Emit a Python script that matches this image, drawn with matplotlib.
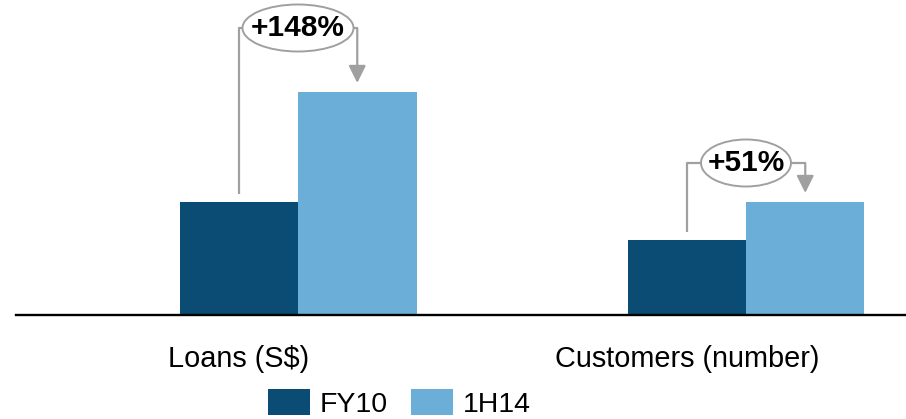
import matplotlib
matplotlib.use("Agg")
import matplotlib.pyplot as plt
from matplotlib.patches import Ellipse, Patch

plt.rcParams['font.family'] = ['Liberation Sans', 'DejaVu Sans']

categories = ["Loans (S$)", "Customers (number)"]
series_names = ["FY10", "1H14"]
fy10 = [113, 75]
h14 = [223, 113]
growth_labels = ["+148%", "+51%"]

dark = "#0B4C74"
light = "#6BAFD8"
grey = "#A0A0A0"

W, H = 906, 419
fig = plt.figure(figsize=(W / 100, H / 100), dpi=100)
ax = fig.add_axes([16 / W, 104 / H, 890 / W, 315 / H])

px = 448.0  # pixels per x data unit
w = 118.5 / px
xs = list(range(len(categories)))

ax.bar([x - w / 2 for x in xs], fy10, w, color=dark, zorder=2)
ax.bar([x + w / 2 for x in xs], h14, w, color=light, zorder=2)

ax.set_xlim((16 - 298) / px, (906 - 298) / px)
ax.set_ylim(0, 315)
for s in ["top", "left", "right"]:
    ax.spines[s].set_visible(False)
ax.spines["bottom"].set_linewidth(1.7)
ax.spines["bottom"].set_color("black")
ax.set_xticks([])
ax.set_yticks([])

# category labels (centred under FY10 bars)
for x, lab in zip(xs, categories):
    ax.text(x - w / 2, -44, lab, ha="center", va="center", fontsize=20.8,
            color="black", clip_on=False)

# growth brackets
bracket_levels = [287, 152]
ell_widths = [111, 90]
for x, a, b, lab, lvl, ew in zip(xs, fy10, h14, growth_labels, bracket_levels, ell_widths):
    xl, xr = x - w / 2, x + w / 2
    ax.plot([xl, xl, xr], [a + 8, lvl, lvl], color=grey, lw=1.6, zorder=3,
            solid_joinstyle="round", solid_capstyle="butt")
    ax.annotate("", xy=(xr, b + 9), xytext=(xr, lvl),
                arrowprops=dict(arrowstyle="-|>,head_length=1.05,head_width=0.52",
                                color=grey, lw=1.6, shrinkA=0, shrinkB=0,
                                mutation_scale=10), zorder=3)
    ax.add_patch(Ellipse((x, lvl), ew / px, 47, facecolor="white",
                         edgecolor=grey, lw=1.4, zorder=4))
    ax.text(x, lvl, lab, ha="center", va="center", fontsize=21.5, fontweight="bold",
            color="black", zorder=5)

handles = [Patch(facecolor=dark, edgecolor="none"), Patch(facecolor=light, edgecolor="none")]
fig.legend(handles, series_names, loc="center", bbox_to_anchor=(399.5 / W, 15.5 / H),
           ncol=2, frameon=False, fontsize=20.5, handlelength=1.47, handleheight=1.02,
           handletextpad=0.35, columnspacing=0.8, borderpad=0, borderaxespad=0)

fig.savefig("out.png", dpi=100, facecolor="white")
